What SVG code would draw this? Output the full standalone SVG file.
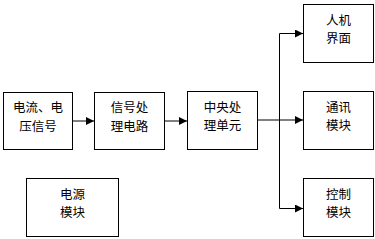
<svg xmlns="http://www.w3.org/2000/svg" width="375" height="239" viewBox="0 0 375 239">
<style>
.box{fill:#fff;stroke:#000;stroke-width:1}
.t{font-family:"Noto Sans CJK SC","Liberation Sans",sans-serif;font-size:12.5px;fill:#000;text-anchor:middle}
.c{fill:none;stroke:#000;stroke-width:1}
</style>
<defs>
<marker id="a" markerWidth="8" markerHeight="8" refX="8" refY="4" orient="auto" markerUnits="userSpaceOnUse">
<path d="M0,0 L8,4 L0,8 Z" fill="#000"/>
</marker>
</defs>
<rect width="375" height="239" fill="#fff"/>
<g id="connectors">
<line class="c" x1="72" y1="121" x2="94" y2="121" marker-end="url(#a)"/>
<line class="c" x1="164" y1="121" x2="187" y2="121" marker-end="url(#a)"/>
<line class="c" x1="257" y1="120" x2="303" y2="120" marker-end="url(#a)"/>
<path class="c" d="M279.5,208 V33.5 H303" marker-end="url(#a)"/>
<path class="c" d="M279.5,200 V208.5 H303" marker-end="url(#a)"/>
</g>
<g id="n1"><rect class="box" x="3.5" y="92.5" width="69" height="57"/><text class="t" x="38" y="112">电流、电</text><text class="t" x="38" y="130.5">压信号</text></g>
<g id="n2"><rect class="box" x="94.5" y="92.5" width="70" height="57"/><text class="t" x="129.5" y="112">信号处</text><text class="t" x="129.5" y="130.5">理电路</text></g>
<g id="n3"><rect class="box" x="187.5" y="91.5" width="70" height="58"/><text class="t" x="222.5" y="111.5">中央处</text><text class="t" x="222.5" y="130">理单元</text></g>
<g id="n4"><rect class="box" x="303.5" y="4.5" width="70" height="58"/><text class="t" x="338.5" y="24.5">人机</text><text class="t" x="338.5" y="43">界面</text></g>
<g id="n5"><rect class="box" x="303.5" y="91.5" width="70" height="58"/><text class="t" x="338.5" y="111.5">通讯</text><text class="t" x="338.5" y="130">模块</text></g>
<g id="n6"><rect class="box" x="303.5" y="178.5" width="70" height="58"/><text class="t" x="338.5" y="198.5">控制</text><text class="t" x="338.5" y="217">模块</text></g>
<g id="n7"><rect class="box" x="26.5" y="178.5" width="92" height="58"/><text class="t" x="72.5" y="198.5">电源</text><text class="t" x="72.5" y="217">模块</text></g>
</svg>
